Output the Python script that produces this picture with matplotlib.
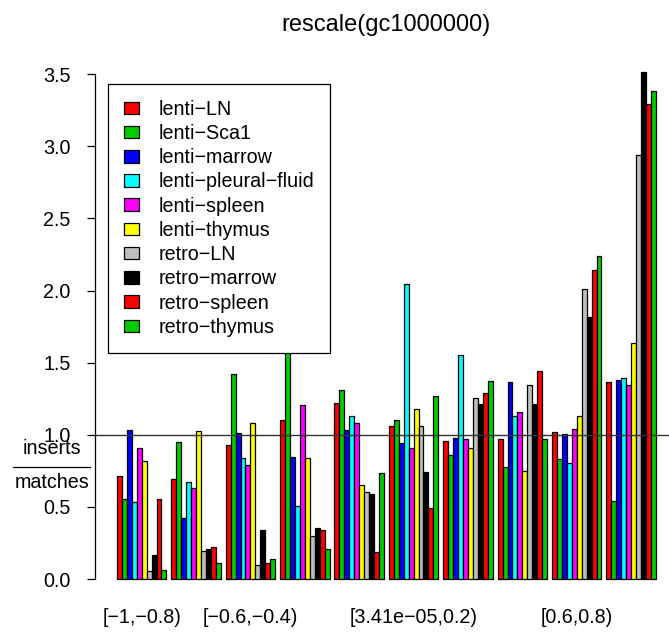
import matplotlib
matplotlib.use("Agg")
import matplotlib.pyplot as plt
from matplotlib.patches import Patch
from matplotlib.lines import Line2D
import numpy as np

plt.rcParams['font.family'] = ['Liberation Sans', 'DejaVu Sans']

MINUS = "\u2212"
FS = 14.2

bins = ["[-1,-0.8)", "[-0.8,-0.6)", "[-0.6,-0.4)", "[-0.4,-0.2)", "[-0.2,3.41e-05)",
        "[3.41e-05,0.2)", "[0.2,0.4)", "[0.4,0.6)", "[0.6,0.8)", "[0.8,1]"]
# bins whose labels fit without overlapping their neighbours
shown_bins = [0, 2, 5, 8]

series = ["lenti-LN", "lenti-Sca1", "lenti-marrow", "lenti-pleural-fluid", "lenti-spleen",
          "lenti-thymus", "retro-LN", "retro-marrow", "retro-spleen", "retro-thymus"]
colors = ["#FF0000", "#00CD00", "#0000FF", "#00FFFF", "#FF00FF",
          "#FFFF00", "#BEBEBE", "#000000", "#FF0000", "#00CD00"]

lenti_LN      = [0.715, 0.696, 0.930, 1.105, 1.220, 1.061, 0.958, 0.972, 1.019, 1.364]
lenti_Sca1    = [0.556, 0.953, 1.420, 1.673, 1.308, 1.103, 0.860, 0.776, 0.832, 0.542]
lenti_marrow  = [1.030, 0.420, 1.010, 0.848, 1.030, 0.946, 0.981, 1.367, 1.007, 1.381]
lenti_pleural = [0.533, 0.673, 0.840, 0.505, 1.128, 2.044, 1.551, 1.128, 0.804, 1.393]
lenti_spleen  = [0.907, 0.631, 0.790, 1.206, 1.082, 0.911, 0.972, 1.161, 1.037, 1.346]
lenti_thymus  = [0.818, 1.023, 1.080, 0.836, 0.654, 1.180, 0.909, 0.748, 1.128, 1.636]
retro_LN      = [0.056, 0.194, 0.098, 0.299, 0.603, 1.058, 1.257, 1.343, 2.009, 2.937]
retro_marrow  = [0.166, 0.210, 0.339, 0.355, 0.591, 0.743, 1.213, 1.215, 1.818, 3.512]
retro_spleen  = [0.556, 0.222, 0.112, 0.339, 0.187, 0.495, 1.290, 1.442, 2.145, 3.290]
retro_thymus  = [0.060, 0.112, 0.140, 0.206, 0.738, 1.271, 1.374, 0.970, 2.243, 3.383]

values = [lenti_LN, lenti_Sca1, lenti_marrow, lenti_pleural, lenti_spleen,
          lenti_thymus, retro_LN, retro_marrow, retro_spleen, retro_thymus]

W, H, DPI = 669, 632, 100
fig = plt.figure(figsize=(W / DPI, H / DPI), dpi=DPI)

# plot region (in pixels), partly running past the right edge of the canvas
left_px, right_px = 95.4, 677.4
bottom_px, top_px = 599.3, 52.2
ax = fig.add_axes([left_px / W, 1 - bottom_px / H,
                   (right_px - left_px) / W, (bottom_px - top_px) / H])

n_series = len(series)
n_groups = len(bins)
group_pitch = n_series + 1

for j in range(n_series):
    lefts = [1 + g * group_pitch + j for g in range(n_groups)]
    ax.bar(lefts, values[j], width=1.0, align='edge', color=colors[j],
           edgecolor='black', linewidth=0.9, zorder=2)

x_lo, x_hi = 1, n_groups * group_pitch
pad = 0.04 * (x_hi - x_lo)
ax.set_xlim(x_lo - pad, x_hi + pad)
ymax = max(max(v) for v in values)
ax.set_ylim(-0.04 * ymax, 1.04 * ymax)

ax.axhline(1.0, color='#333333', linewidth=1.0, zorder=3)

for s in ['top', 'right', 'bottom']:
    ax.spines[s].set_visible(False)
ax.spines['left'].set_bounds(0, 3.5)
ax.spines['left'].set_linewidth(0.9)

yt = np.arange(0, 3.51, 0.5)
ax.set_yticks(yt)
ax.set_yticklabels([f"{v:.1f}" for v in yt])
ax.tick_params(axis='y', length=6, width=0.9, pad=12, labelsize=FS)

centers = [1 + g * group_pitch + n_series / 2 for g in shown_bins]
ax.set_xticks(centers)
ax.set_xticklabels([bins[g].replace("-", MINUS) for g in shown_bins])
ax.tick_params(axis='x', length=0, pad=6.5, labelsize=FS)

fig.text((left_px + right_px) / 2 / W, 1 - 31 / H, "rescale(gc1000000)",
         ha='center', va='baseline', fontsize=FS * 1.2)

# y-axis label drawn as a fraction
fx = 52 / W
fig.text(fx, 1 - 449 / H, "inserts", ha='center', va='center', fontsize=FS)
fig.text(fx, 1 - 483 / H, "matches", ha='center', va='center', fontsize=FS)
fig.add_artist(Line2D([13 / W, 90 / W], [1 - 467 / H, 1 - 467 / H],
                      color='black', linewidth=0.9, transform=fig.transFigure))

handles = [Patch(facecolor=c, edgecolor='black', linewidth=0.9) for c in colors]
leg = fig.legend(handles, [s.replace("-", MINUS) for s in series],
                 loc='upper left', bbox_to_anchor=(108 / W, 1 - 84 / H),
                 bbox_transform=fig.transFigure, borderaxespad=0,
                 fancybox=False, framealpha=1, edgecolor='black',
                 fontsize=FS, handlelength=0.75, handleheight=0.6,
                 labelspacing=0.265, borderpad=0.8, handletextpad=1.0)
leg.get_frame().set_linewidth(0.9)

fig.savefig("out.png", dpi=DPI)
